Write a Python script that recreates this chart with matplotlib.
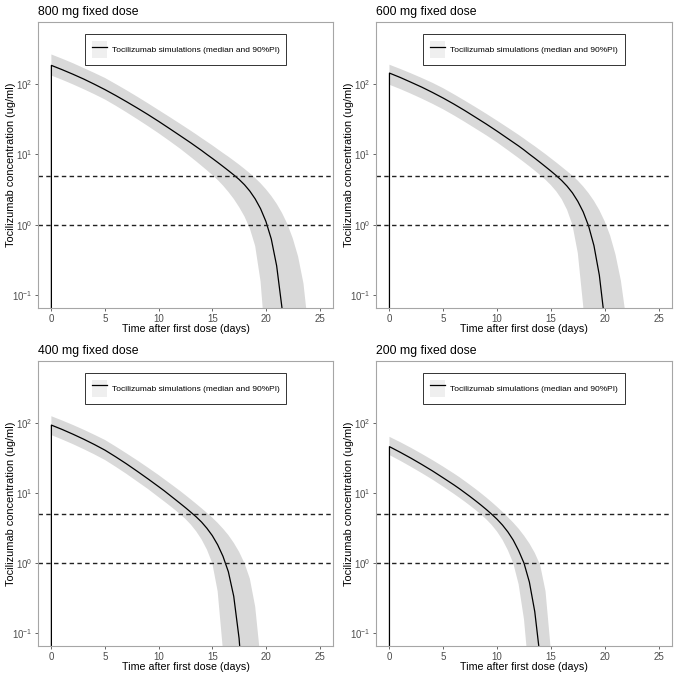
import numpy as np
import matplotlib
matplotlib.use("Agg")
import matplotlib.pyplot as plt
from matplotlib.lines import Line2D
from matplotlib.patches import Patch

plt.rcParams['font.family'] = ['Liberation Sans', 'DejaVu Sans']

titles = ["800 mg fixed dose", "600 mg fixed dose", "400 mg fixed dose", "200 mg fixed dose"]
thresholds = [5, 1]

# time after first dose (days); the first 0 is the pre-dose sample (conc = 0)
t_800 = [0, 0, 1, 2, 3, 4, 5, 6, 7, 8, 9, 10, 11, 12, 13,
         13.5, 14, 14.5, 15, 15.5, 16, 16.5, 17, 17.5, 18, 18.5, 19, 19.5, 20,
         20.5, 21, 21.5, 22, 22.5, 23, 23.5, 24]
med_800 = [0, 184, 160, 138, 118, 99.5, 83.2, 68.7, 56.2, 45.7, 36.9, 29.5, 23.4, 18.5, 14.6,
           12.9, 11.4, 10.0, 8.81, 7.73, 6.76, 5.90, 5.13, 4.42, 3.72, 3.02, 2.34, 1.70, 1.12,
           0.631, 0.263, 0.066, 0.0066, 0, 0, 0, 0]
hi_800 = [0, 263, 229, 198, 169, 144, 122, 100, 81.7, 66.2, 53.3, 42.7, 34.2, 27.3, 21.7,
          19.3, 17.1, 15.2, 13.5, 11.9, 10.5, 9.31, 8.18, 7.18, 6.25, 5.41, 4.63, 3.90, 3.21,
          2.58, 2.00, 1.48, 1.03, 0.647, 0.356, 0.148, 0.0296]
lo_800 = [0, 132, 115, 99.1, 84.7, 71.8, 60.3, 49.2, 39.7, 31.8, 25.3, 20.0, 15.6, 12.1, 9.18,
          7.98, 6.90, 5.96, 5.12, 4.36, 3.62, 2.94, 2.34, 1.79, 1.32, 0.891, 0.501, 0.158, 0.0178,
          0, 0, 0, 0, 0, 0, 0, 0]

t_600 = [0, 0, 1, 2, 3, 4, 5, 6, 7, 8, 9, 10, 11, 12,
         12.5, 13, 13.5, 14, 14.5, 15, 15.5, 16, 16.5, 17, 17.5, 18, 18.5, 19, 19.5, 20,
         20.5, 21, 21.5, 22, 22.5]
med_600 = [0, 143, 124, 106, 90.4, 75.9, 63.1, 51.8, 42.0, 33.7, 27.0, 21.4, 16.8, 13.2,
           11.6, 10.1, 8.85, 7.71, 6.70, 5.81, 5.01, 4.27, 3.55, 2.85, 2.16, 1.53, 0.966, 0.507,
           0.193, 0.0432, 0.0043, 0, 0, 0, 0]
hi_600 = [0, 188, 164, 142, 122, 104, 87.1, 71.4, 58.1, 47.0, 37.8, 30.2, 24.0, 19.0,
          16.8, 14.8, 13.1, 11.5, 10.1, 8.81, 7.69, 6.68, 5.79, 5.01, 4.25, 3.51, 2.82, 2.19,
          1.62, 1.12, 0.708, 0.380, 0.162, 0.0457, 0.005]
lo_600 = [0, 97.7, 84.9, 72.9, 62.1, 52.4, 43.7, 35.8, 29.0, 23.3, 18.7, 14.8, 11.5, 8.89,
          7.78, 6.79, 5.90, 5.11, 4.37, 3.67, 2.99, 2.32, 1.64, 1.00, 0.398, 0.0708, 0.0063, 0,
          0, 0, 0, 0, 0, 0, 0]

t_400 = [0, 0, 1, 2, 3, 4, 5, 6, 7, 8, 9, 10,
         10.5, 11, 11.5, 12, 12.5, 13, 13.5, 14, 14.5, 15, 15.5, 16, 16.5, 17, 17.5, 18,
         18.5, 19, 19.5, 20]
med_400 = [0, 92.7, 80.4, 68.9, 58.5, 49.1, 40.7, 32.7, 26.0, 20.4, 15.9, 12.3,
           10.8, 9.40, 8.18, 7.11, 6.17, 5.32, 4.57, 3.85, 3.14, 2.47, 1.83, 1.25, 0.753, 0.337,
           0.0845, 0.0085, 0, 0, 0, 0]
hi_400 = [0, 124, 108, 93.3, 79.8, 67.6, 56.9, 45.9, 36.7, 29.2, 23.0, 18.0,
          15.8, 13.9, 12.2, 10.7, 9.31, 8.09, 7.01, 6.05, 5.20, 4.45, 3.75, 3.10, 2.51, 1.95,
          1.45, 1.00, 0.603, 0.240, 0.0427, 0.0032]
lo_400 = [0, 66.8, 57.9, 49.7, 42.2, 35.5, 29.5, 23.6, 18.7, 14.6, 11.4, 8.71,
          7.62, 6.65, 5.78, 5.00, 4.26, 3.54, 2.84, 2.18, 1.56, 1.00, 0.398, 0.0562, 0.004, 0,
          0, 0, 0, 0, 0, 0]

t_200 = [0, 0, 1, 2, 3, 4, 5, 6,
         6.5, 7, 7.5, 8, 8.5, 9, 9.5, 10, 10.5, 11, 11.5, 12, 12.5, 13, 13.5, 14, 14.5,
         15, 15.5]
med_200 = [0, 45.7, 38.0, 31.3, 25.5, 20.6, 16.4, 13.0,
           11.5, 10.1, 8.87, 7.74, 6.73, 5.81, 4.98, 4.22, 3.49, 2.79, 2.13, 1.51, 1.00, 0.537,
           0.204, 0.0447, 0.005, 0, 0]
hi_200 = [0, 63.1, 53.0, 44.0, 36.1, 29.4, 23.7, 18.9,
          16.8, 14.8, 13.0, 11.4, 9.93, 8.61, 7.41, 6.34, 5.38, 4.53, 3.78, 3.10, 2.47, 1.91,
          1.40, 0.944, 0.398, 0.0562, 0.004]
lo_200 = [0, 34.7, 28.8, 23.6, 19.2, 15.5, 12.3, 9.68,
          8.55, 7.52, 6.58, 5.73, 4.94, 4.21, 3.50, 2.81, 2.15, 1.53, 1.00, 0.501, 0.158, 0.0224,
          0.0016, 0, 0, 0, 0]

panels = [(t_800, med_800, lo_800, hi_800),
          (t_600, med_600, lo_600, hi_600),
          (t_400, med_400, lo_400, hi_400),
          (t_200, med_200, lo_200, hi_200)]

fig = plt.figure(figsize=(6.77, 6.77), dpi=100)
boxes = [[0.0561, 0.545, 0.4357, 0.4225],
         [0.5554, 0.545, 0.4372, 0.4225],
         [0.0561, 0.0458, 0.4357, 0.4210],
         [0.5554, 0.0458, 0.4372, 0.4210]]

for k in range(4):
    ax = fig.add_axes(boxes[k])
    t, med, lo, hi = [np.array(a, dtype=float) for a in panels[k]]
    ax.set_yscale('log', nonpositive='clip')
    ax.fill_between(t, lo, hi, color='#d9d9d9', lw=0)
    ax.plot(t, med, color='black', lw=0.9)
    for th in thresholds:
        ax.axhline(th, color='#222222', lw=1.0, ls=(0, (3.2, 2.4)))
    ax.set_xlim(-1.25, 26.25)
    ax.set_ylim(0.066, 760)
    ax.set_xticks([0, 5, 10, 15, 20, 25])
    ax.set_yticks([0.1, 1, 10, 100])
    ax.yaxis.set_minor_locator(matplotlib.ticker.NullLocator())
    ax.tick_params(axis='both', labelsize=7, colors='#4d4d4d', length=2.5, width=0.6, pad=1.5)
    for s in ax.spines.values():
        s.set_color('#a6a6a6')
        s.set_linewidth(0.8)
    ax.set_xlabel("Time after first dose (days)", fontsize=7.7, labelpad=0.5, color='black')
    ax.set_ylabel("Tocilizumab concentration (ug/ml)", fontsize=7.9, color='black')
    ax.yaxis.set_label_coords(-0.076, 0.5)
    ax.set_title(titles[k], loc='left', fontsize=8.8, pad=5)
    handle = (Patch(facecolor='#efefef', edgecolor='none'), Line2D([], [], color='black', lw=0.9))
    leg = ax.legend([handle], ["Tocilizumab simulations (median and 90%PI)"],
                    loc='upper center', bbox_to_anchor=(0.5, 0.958), fontsize=6.0,
                    fancybox=False, framealpha=1, edgecolor='#333333',
                    handlelength=1.8, handleheight=2.7, handletextpad=0.6,
                    borderpad=0.85, borderaxespad=0)
    leg.get_frame().set_linewidth(0.7)

fig.savefig("out.png", dpi=100)
